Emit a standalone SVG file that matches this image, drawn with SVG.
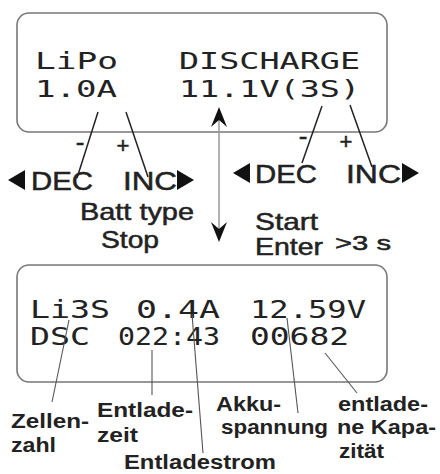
<svg xmlns="http://www.w3.org/2000/svg" width="440" height="474" viewBox="0 0 440 474">
<style>
.box{fill:#fff;stroke:#777;stroke-width:1.6}
.lcd{font-family:"DejaVu Sans Mono","Liberation Mono",monospace;fill:#222}
.lab{font-family:"Liberation Sans",Arial,sans-serif;fill:#222;stroke:#222;stroke-width:0.5}
.blab{font-family:"Liberation Sans",Arial,sans-serif;font-weight:bold;fill:#222;font-size:20px}
.lead{stroke:#222;stroke-width:1.5;fill:none}
.leadb{stroke:#555;stroke-width:1.1;fill:none}
.vline{stroke:#999;stroke-width:1.5}
.tri{fill:#111}
</style>
<rect width="440" height="474" fill="#fff"/>
<g id="display-top">
<rect class="box" x="17" y="13" width="370" height="119" rx="12"/>
<text class="lcd" font-size="23" x="35" y="69" textLength="83" lengthAdjust="spacingAndGlyphs">LiPo</text>
<text class="lcd" font-size="23" x="179" y="69" textLength="181" lengthAdjust="spacingAndGlyphs">DISCHARGE</text>
<text class="lcd" font-size="23" x="35" y="97" textLength="82" lengthAdjust="spacingAndGlyphs">1.0A</text>
<text class="lcd" font-size="23" x="179" y="97" textLength="181" lengthAdjust="spacingAndGlyphs">11.1V(3S)</text>
</g>
<g id="display-bottom">
<rect class="box" x="17" y="265" width="370" height="117" rx="12"/>
<text class="lcd" font-size="24" x="30" y="318" textLength="80" lengthAdjust="spacingAndGlyphs">Li3S</text>
<text class="lcd" font-size="24" x="136" y="318" textLength="84" lengthAdjust="spacingAndGlyphs">0.4A</text>
<text class="lcd" font-size="24" x="250" y="318" textLength="116" lengthAdjust="spacingAndGlyphs">12.59V</text>
<text class="lcd" font-size="24" x="30" y="345" textLength="60" lengthAdjust="spacingAndGlyphs">DSC</text>
<text class="lcd" font-size="24" x="118" y="345" textLength="102" lengthAdjust="spacingAndGlyphs">022:43</text>
<text class="lcd" font-size="24" x="250" y="345" textLength="99" lengthAdjust="spacingAndGlyphs">00682</text>
</g>
<g id="connectors">
<line class="vline" x1="219" y1="115" x2="219" y2="234"/>
<path class="tri" d="M219,107 L227,127 L219,120 L211,127 Z"/>
<path class="tri" d="M219,242 L227,222 L219,229 L211,222 Z"/>
<line class="lead" x1="98" y1="112" x2="77" y2="178"/>
<line class="lead" x1="126" y1="112" x2="148" y2="177"/>
<line class="lead" x1="322" y1="106" x2="302" y2="163"/>
<line class="lead" x1="350" y1="105" x2="372" y2="167"/>
<line class="leadb" x1="69" y1="320" x2="52" y2="402"/>
<line class="leadb" x1="152" y1="350" x2="152" y2="395"/>
<line class="leadb" x1="192" y1="314" x2="203" y2="453"/>
<line class="leadb" x1="287" y1="318" x2="298" y2="413"/>
<line class="leadb" x1="325" y1="353" x2="357" y2="393"/>
</g>
<g id="keys-left">
<polygon class="tri" points="8,180 25,170 25,190"/>
<text class="lab" font-size="25" x="31" y="190" textLength="62" lengthAdjust="spacingAndGlyphs">DEC</text>
<text class="lab" font-size="25" x="123" y="190" textLength="54" lengthAdjust="spacingAndGlyphs">INC</text>
<polygon class="tri" points="177,170 177,190 194,180"/>
<text class="lab" font-size="26" x="80" y="151" text-anchor="middle">-</text>
<text class="lab" font-size="22" x="123" y="153" text-anchor="middle">+</text>
<text class="lab" font-size="24" x="80" y="220" textLength="114" lengthAdjust="spacingAndGlyphs">Batt type</text>
<text class="lab" font-size="24" x="101" y="248" textLength="58" lengthAdjust="spacingAndGlyphs">Stop</text>
</g>
<g id="keys-right">
<polygon class="tri" points="233,173 250,163 250,183"/>
<text class="lab" font-size="25" x="255" y="183" textLength="62" lengthAdjust="spacingAndGlyphs">DEC</text>
<text class="lab" font-size="25" x="346" y="183" textLength="55" lengthAdjust="spacingAndGlyphs">INC</text>
<polygon class="tri" points="402,163 402,183 419,173"/>
<text class="lab" font-size="26" x="303" y="145" text-anchor="middle">-</text>
<text class="lab" font-size="22" x="346" y="149" text-anchor="middle">+</text>
<text class="lab" font-size="24" x="255" y="230" textLength="63" lengthAdjust="spacingAndGlyphs">Start</text>
<text class="lab" font-size="24" x="255" y="255" textLength="68" lengthAdjust="spacingAndGlyphs">Enter</text>
<text class="lab" font-size="21" x="335" y="250" textLength="56" lengthAdjust="spacingAndGlyphs">&gt;3 s</text>
</g>
<g id="labels-bottom">
<text class="blab" x="11" y="428" textLength="78" lengthAdjust="spacingAndGlyphs">Zellen-</text>
<text class="blab" x="11" y="452" textLength="45" lengthAdjust="spacingAndGlyphs">zahl</text>
<text class="blab" x="97" y="417" textLength="96" lengthAdjust="spacingAndGlyphs">Entlade-</text>
<text class="blab" x="97" y="442" textLength="41" lengthAdjust="spacingAndGlyphs">zeit</text>
<text class="blab" x="124" y="469" textLength="152" lengthAdjust="spacingAndGlyphs">Entladestrom</text>
<text class="blab" x="216" y="411" textLength="65" lengthAdjust="spacingAndGlyphs">Akku-</text>
<text class="blab" x="221" y="434" textLength="107" lengthAdjust="spacingAndGlyphs">spannung</text>
<text class="blab" x="338" y="411" textLength="90" lengthAdjust="spacingAndGlyphs">entlade-</text>
<text class="blab" x="337" y="434" textLength="99" lengthAdjust="spacingAndGlyphs">ne Kapa-</text>
<text class="blab" x="339" y="458" textLength="45" lengthAdjust="spacingAndGlyphs">zität</text>
</g>
</svg>
